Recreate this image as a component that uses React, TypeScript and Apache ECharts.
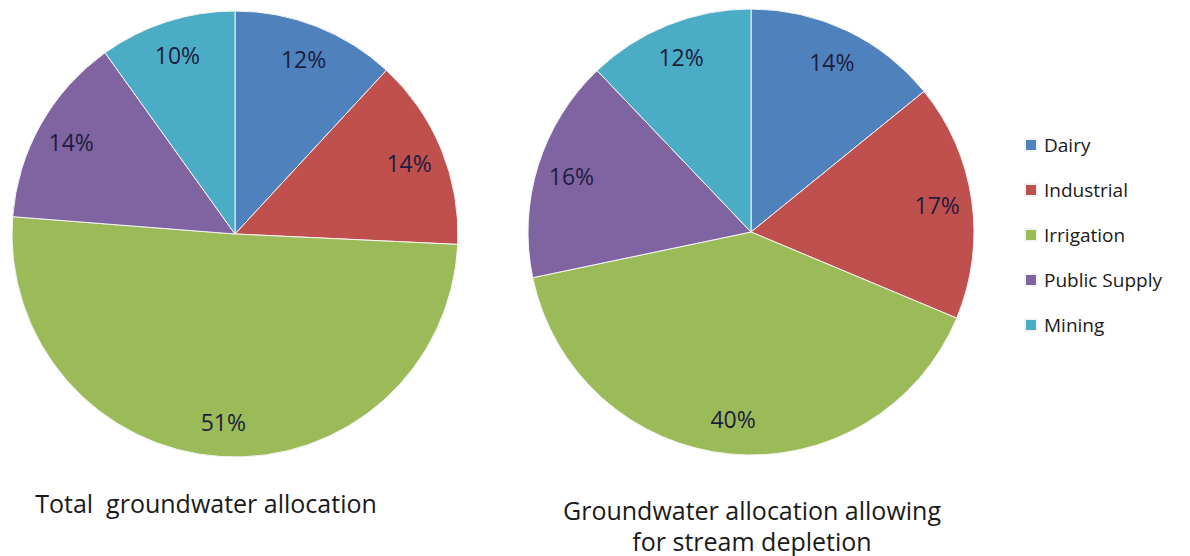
import React, { useEffect, useRef } from "react";
import * as echarts from "echarts";

// Water-use categories and the two allocation breakdowns (percent)
const categories = ["Dairy", "Industrial", "Irrigation", "Public Supply", "Mining"];
const totalAllocation = [12, 14, 51, 14, 10];
const depletionAllocation = [14, 17, 40, 16, 12];
const sliceColors = ["#4F81BD", "#C0504D", "#9BBB59", "#8064A2", "#4BACC6"];

const leftTitle = "Total  groundwater allocation";
const rightTitle = "Groundwater allocation allowing\nfor stream depletion";

const FONT = "'Open Sans', 'Noto Sans', sans-serif";
const LABEL_COLOR = "#1d1d3d";
const RADIUS = 223;

function toData(values: number[]) {
  return categories.map((name, i) => ({ name, value: values[i] }));
}

function pieSeries(center: [number, number], values: number[]) {
  return {
    type: "pie",
    center,
    radius: [0, RADIUS],
    startAngle: 90,
    clockwise: true,
    silent: true,
    color: sliceColors,
    itemStyle: { borderColor: "#f4f4f4", borderWidth: 1 },
    label: { show: false },
    labelLine: { show: false },
    data: toData(values),
  };
}

// Transparent ring carrying the percentage labels near the rim
function labelRing(center: [number, number], values: number[]) {
  return {
    type: "pie",
    center,
    radius: [RADIUS * 0.66, RADIUS],
    startAngle: 90,
    clockwise: true,
    silent: true,
    itemStyle: { color: "rgba(0,0,0,0)", borderWidth: 0 },
    label: {
      show: true,
      position: "inside",
      formatter: "{c}%",
      fontFamily: FONT,
      fontSize: 23,
      color: LABEL_COLOR,
    },
    labelLine: { show: false },
    data: toData(values),
  };
}

export default function App() {
  const ref = useRef<HTMLDivElement>(null);

  useEffect(() => {
    if (!ref.current) return;
    const chart = echarts.init(ref.current, undefined, { renderer: "svg" });
    const leftCenter: [number, number] = [235, 234];
    const rightCenter: [number, number] = [751, 232];
    chart.setOption({
      animation: false,
      backgroundColor: "#ffffff",
      legend: {
        orient: "vertical",
        left: 1019,
        top: 128,
        data: categories,
        icon: "rect",
        itemWidth: 12,
        itemHeight: 12,
        itemGap: 21,
        selectedMode: false,
        textStyle: {
          fontFamily: FONT,
          fontSize: 19,
          color: "#1a1a1a",
          lineHeight: 24,
          padding: [0, 0, 0, 2],
        },
      },
      series: [
        pieSeries(leftCenter, totalAllocation),
        pieSeries(rightCenter, depletionAllocation),
        labelRing(leftCenter, totalAllocation),
        labelRing(rightCenter, depletionAllocation),
      ],
      graphic: [
        {
          type: "text",
          x: 206,
          y: 503,
          style: {
            text: leftTitle,
            font: `25px ${FONT}`,
            fill: "#1a1a1a",
            align: "center",
            verticalAlign: "middle",
          },
        },
        {
          type: "text",
          x: 752,
          y: 494,
          style: {
            text: rightTitle,
            font: `25px ${FONT}`,
            fill: "#1a1a1a",
            align: "center",
            verticalAlign: "top",
            lineHeight: 31,
          },
        },
      ],
    });
    return () => chart.dispose();
  }, []);

  return (
    <div
      ref={ref}
      style={{ position: "fixed", left: 0, top: 0, width: 1190, height: 556, background: "#fff" }}
    />
  );
}
